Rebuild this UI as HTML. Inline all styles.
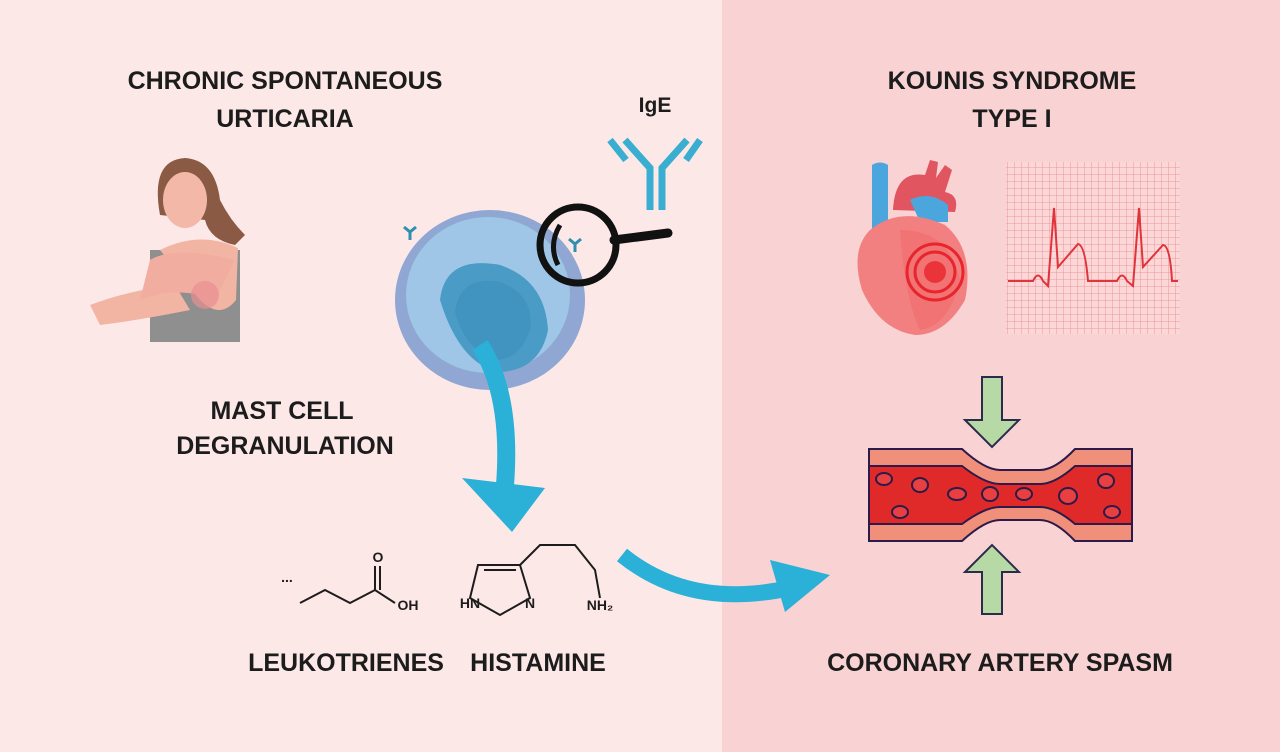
<!DOCTYPE html>
<html><head><meta charset="utf-8"><style>
html,body{margin:0;padding:0;width:1280px;height:752px;overflow:hidden}
svg{display:block}
text{font-family:"Liberation Sans",sans-serif;font-weight:bold;fill:#1c1c1c}
</style></head><body>
<svg width="1280" height="752" viewBox="0 0 1280 752">
<rect x="0" y="0" width="722" height="752" fill="#fde8e8"/>
<rect x="722" y="0" width="558" height="752" fill="#f9d2d4"/>

<g font-size="25" text-anchor="middle">
<text x="285" y="89">CHRONIC SPONTANEOUS</text>
<text x="285" y="127">URTICARIA</text>
<text x="1012" y="89">KOUNIS SYNDROME</text>
<text x="1012" y="127">TYPE I</text>
<text x="282" y="419">MAST CELL</text>
<text x="285" y="454">DEGRANULATION</text>
<text x="346" y="671">LEUKOTRIENES</text>
<text x="538" y="671">HISTAMINE</text>
<text x="1000" y="671">CORONARY ARTERY SPASM</text>
<text x="655" y="112" font-size="21">IgE</text>
</g>

<g stroke="#3aaed0" stroke-width="7" fill="none">
<path d="M650 210 V168 L625 140 M662 210 V168 L687 140"/>
<path d="M626 160 L610 140 M686 160 L700 140"/>
</g>

<g>
<path d="M160 215 Q150 160 185 158 Q215 160 220 200 Q230 220 245 235 L235 245 Q210 240 205 220 Z" fill="#8a5a44"/>
<ellipse cx="185" cy="200" rx="22" ry="28" fill="#f3b8a8"/>
<rect x="150" y="250" width="90" height="92" fill="#8f8f8f"/>
<path d="M160 250 Q200 230 238 248 L236 300 Q220 320 200 300 Z" fill="#f2b5a4"/>
<path d="M90 305 Q130 290 175 285 L190 310 Q140 320 100 325 Z" fill="#f2b5a4"/>
<path d="M150 260 Q175 245 235 260 L215 300 Q180 285 140 300 Z" fill="#f0ada0"/>
<ellipse cx="205" cy="295" rx="14" ry="14" fill="#e88f92" opacity=".7"/>
</g>

<ellipse cx="490" cy="300" rx="95" ry="90" fill="#8fa7d2"/>
<ellipse cx="488" cy="295" rx="82" ry="78" fill="#9fc6e6"/>
<path d="M440 300 Q445 255 500 265 Q545 280 548 330 Q540 370 500 372 Q460 365 440 300Z" fill="#4a9cc6"/>
<path d="M455 312 Q460 275 500 282 Q535 295 530 330 Q520 360 495 360 Q465 350 455 312Z" fill="#3d8fbd" opacity=".6"/>
<g stroke="#2f8fb0" stroke-width="3" fill="none"><path d="M410 240 v-8 l-6 -5 M410 232 l6 -5"/><path d="M575 252 v-8 l-6 -5 M575 244 l6 -5"/></g>
<circle cx="578" cy="245" r="38" fill="none" stroke="#111" stroke-width="7"/>
<path d="M614 240 L668 233" stroke="#111" stroke-width="9" stroke-linecap="round"/>
<path d="M560 225 Q548 245 558 265" stroke="#111" stroke-width="5" fill="none"/>

<path d="M480 345 Q512 395 505 485" stroke="#2bb0d8" stroke-width="18" fill="none"/>
<path d="M462 478 L545 488 L512 532 Z" fill="#2bb0d8"/>
<path d="M622 555 Q690 610 790 588" stroke="#2bb0d8" stroke-width="16" fill="none"/>
<path d="M770 560 L830 575 L785 612 Z" fill="#2bb0d8"/>

<g stroke="#1c1c1c" stroke-width="2" fill="none">
<path d="M300 603 L325 590 L350 603 L375 590 L395 603 M375 590 V566 M380 590 V566"/>
<path d="M478 565 L520 565 L530 598 L500 615 L470 598 Z M484 570 L516 570"/>
<path d="M520 565 L540 545 L575 545 L595 570 L600 598"/>
</g>
<g font-size="14" text-anchor="middle">
<text x="287" y="582">...</text>
<text x="378" y="562">O</text>
<text x="408" y="610">OH</text>
<text x="470" y="608">HN</text>
<text x="530" y="608">N</text>
<text x="600" y="610">NH₂</text>
</g>

<g>
<path d="M872 165 q8 -5 16 0 v65 h-16z" fill="#4aa6dc"/>
<path d="M893 210 Q895 170 925 175 L930 160 L938 162 L936 178 L945 165 L952 170 L945 192 Q960 195 955 212 Z" fill="#e05560"/>
<path d="M910 200 Q930 190 948 205 L948 222 L920 222 Z" fill="#4aa6dc"/>
<path d="M870 230 Q900 205 945 225 Q975 250 965 300 Q945 335 915 335 Q880 330 862 290 Q850 250 870 230Z" fill="#f28080"/>
<path d="M900 230 Q950 230 960 280 Q950 325 920 330 Q905 300 900 230Z" fill="#f06a6a" opacity=".6"/>
<circle cx="935" cy="272" r="28" fill="none" stroke="#e8242c" stroke-width="3"/>
<circle cx="935" cy="272" r="20" fill="none" stroke="#e8242c" stroke-width="3"/>
<circle cx="935" cy="272" r="11" fill="#e8242c" opacity=".8"/>
</g>
<defs><pattern id="g" width="7" height="7" patternUnits="userSpaceOnUse"><path d="M7 0V7H0" fill="none" stroke="#e8868b" stroke-width="0.8"/></pattern></defs>
<rect x="1006" y="162" width="174" height="172" fill="#fbd7d8"/>
<rect x="1006" y="162" width="174" height="172" fill="url(#g)"/>
<path d="M1008 281 H1033 Q1038 270 1043 281 L1048 286 L1054 208 L1058 267 L1078 244 Q1085 245 1088 281 H1117 Q1122 270 1127 281 L1133 286 L1139 208 L1143 267 L1163 245 Q1170 245 1172 281 H1178" stroke="#e0343c" stroke-width="2" fill="none"/>

<path d="M982 377 H1002 V420 H1019 L992 447 L965 420 H982Z" fill="#b7d9a6" stroke="#2b2b4a" stroke-width="2"/>
<path d="M982 614 H1002 V572 H1019 L992 545 L965 572 H982Z" fill="#b7d9a6" stroke="#2b2b4a" stroke-width="2"/>

<g stroke="#2c1a4a" stroke-width="2">
<path d="M869 449 H962 Q985 470 1000 470 H1040 Q1055 470 1075 449 H1132 V541 H1075 Q1055 520 1040 520 H1000 Q985 520 962 541 H869Z" fill="#f0907a"/>
<path d="M869 466 H962 Q985 484 1000 484 H1040 Q1055 484 1075 466 H1132 V524 H1075 Q1055 507 1040 507 H1000 Q985 507 962 524 H869Z" fill="#e02a2a"/>
</g>
<g fill="#e84040" stroke="#2c1a4a" stroke-width="2">
<ellipse cx="884" cy="479" rx="8" ry="6"/><ellipse cx="920" cy="485" rx="8" ry="7"/>
<ellipse cx="900" cy="512" rx="8" ry="6"/><ellipse cx="957" cy="494" rx="9" ry="6"/>
<ellipse cx="990" cy="494" rx="8" ry="7"/><ellipse cx="1024" cy="494" rx="8" ry="6"/>
<ellipse cx="1068" cy="496" rx="9" ry="8"/><ellipse cx="1106" cy="481" rx="8" ry="7"/>
<ellipse cx="1112" cy="512" rx="8" ry="6"/>
</g>
</svg>
</body></html>
